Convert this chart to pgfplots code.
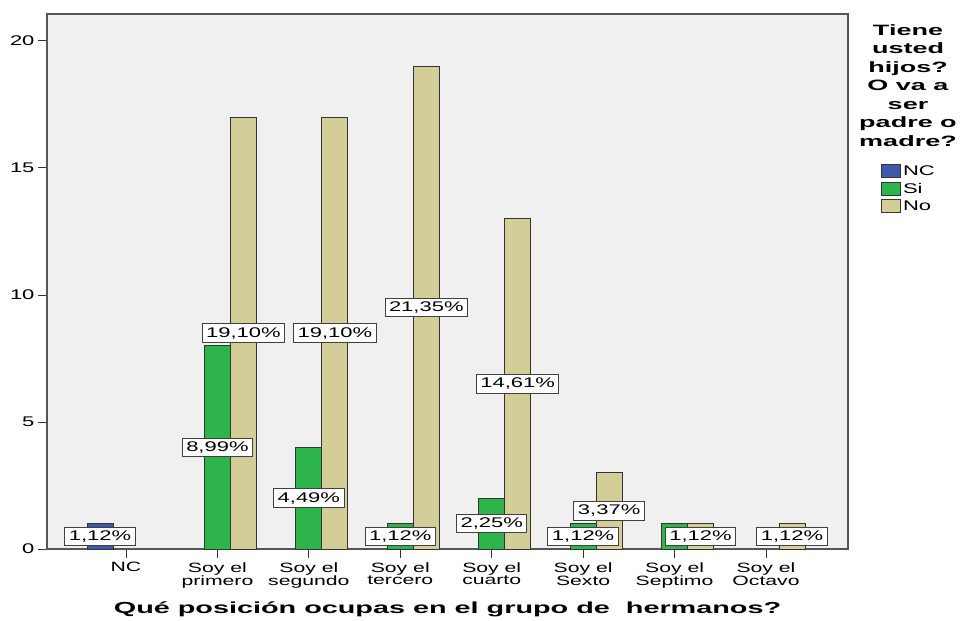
\documentclass[border=0pt]{standalone}
\usepackage{pgfplots}
\pgfplotsset{compat=1.18}
\usepackage{fontspec}
\setmainfont[FakeStretch=1.57,BoldFeatures={FakeStretch=1.8}]{Liberation Sans}

\definecolor{ncblue}{RGB}{62,88,170}
\definecolor{sigreen}{RGB}{45,180,75}
\definecolor{nokhaki}{RGB}{211,206,151}
\definecolor{plotbg}{RGB}{240,240,240}
\definecolor{framegray}{RGB}{85,85,85}

\pgfplotsset{
  legsq/.style={legend image code/.code={\draw[##1] (0pt,-6pt) rectangle (19pt,7pt);}},
  barbase/.style={ybar, bar width=0.2844, draw=black!80, line width=0.8pt, legsq},
}

\begin{document}
\begin{tikzpicture}
\begin{axis}[
  scale only axis, width=801pt, height=535pt,
  xmin=-0.864, xmax=7.897, ymin=0, ymax=21.06,
  axis background/.style={fill=plotbg},
  axis line style={draw=framegray, line width=1.4pt},
  xtick={0,1,2,3,4,5,6,7},
  xticklabels={NC, {Soy el\\primero}, {Soy el\\segundo}, {Soy el\\tercero},
    {Soy el\\cuarto}, {Soy el\\Sexto}, {Soy el\\Septimo}, {Soy el\\Octavo}},
  ytick={0,5,10,15,20},
  tick align=outside, xtick pos=left, ytick pos=left,
  major tick length=9pt,
  tick style={draw=black!80, line width=0.9pt},
  /pgf/number format/assume math mode=true,
  yticklabel style={font=\fontsize{14}{14}\selectfont},
  xticklabel style={font=\fontsize{13.5}{10.5}\selectfont, align=center, yshift=-1pt},
  xlabel={Qué posición ocupas en el grupo de\ \ hermanos?},
  xlabel style={font=\bfseries\fontsize{16}{16}\selectfont, yshift=-6pt},
  legend style={at={(rel axis cs:1,1)}, anchor=north west, xshift=33pt, yshift=-150pt,
    draw=none, fill=none, font=\fontsize{14}{14}\selectfont, inner sep=0pt, row sep=2pt,
    /tikz/every even column/.append style={column sep=4pt}},
  legend cell align=left,
]
\addplot[barbase, bar shift=-0.2844, fill=ncblue] coordinates {(0,1)};
\addplot[barbase, bar shift=0, fill=sigreen] coordinates {(1,8) (2,4) (3,1) (4,2) (5,1) (6,1)};
\addplot[barbase, bar shift=0.2844, fill=nokhaki] coordinates {(1,17) (2,17) (3,19) (4,13) (5,3) (6,1) (7,1)};
\legend{NC,Si,No}
% percentage labels, centred on each bar
\addplot[forget plot, draw=none, nodes near coords, point meta=explicit symbolic,
  every node near coord/.style={anchor=center, draw=black!75, fill=white, text=black,
    line width=1pt, font=\fontsize{14}{14}\selectfont, inner xsep=4pt, inner ysep=3.5pt}]
  coordinates {
    (-0.2844,0.5) [1,12\%]
    (1,4) [8,99\%]
    (1.2844,8.5) [19,10\%]
    (2,2) [4,49\%]
    (2.2844,8.5) [19,10\%]
    (3,0.5) [1,12\%]
    (3.2844,9.5) [21,35\%]
    (4,1) [2,25\%]
    (4.2844,6.5) [14,61\%]
    (5,0.5) [1,12\%]
    (5.2844,1.5) [3,37\%]
    (6.2844,0.5) [1,12\%]
    (7.2844,0.5) [1,12\%]
  };
\end{axis}
\path (current axis.north east) ++(60pt,-10pt) node[anchor=north, align=center, inner sep=0pt,
  font=\bfseries\fontsize{15}{18.5}\selectfont]
  {Tiene\\usted\\hijos?\\O va a\\ser\\padre o\\madre?};
\path (current axis.south west) ++(-47pt,-71pt) rectangle ++(961pt,620pt);
\end{tikzpicture}
\end{document}
